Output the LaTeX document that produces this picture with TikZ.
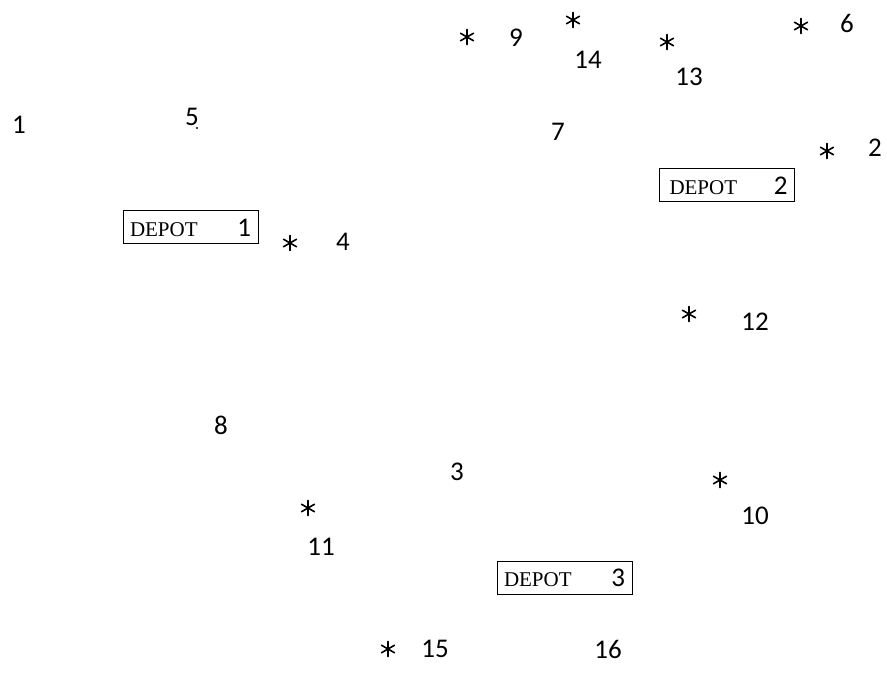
\documentclass[tikz,border=0pt]{standalone}
\usepackage{fontspec}
\setmainfont{Carlito}
\newfontfamily\depotfont{Liberation Serif}
\usepackage{tikz}

\begin{document}
\begin{tikzpicture}[x=1pt, y=-1pt, every node/.style={font=\fontsize{27}{30}\selectfont, inner sep=0pt}]
            \tikzstyle{cust}=[circle, minimum size=19pt, path picture={
                \draw[line width=1.6pt, line cap=round] (path picture bounding box.center) +(90:7.5pt) -- +(270:7.5pt)
                    (path picture bounding box.center) +(30:7.5pt) -- +(210:7.5pt)
                    (path picture bounding box.center) +(150:7.5pt) -- +(330:7.5pt);}]
            \tikzstyle{depot}=[rectangle, draw, line width=1pt, text width=121pt, inner xsep=7pt, minimum height=33pt, align=left]

            \useasboundingbox (0,0) rectangle (887,687);

            % depots
            \node[depot] (d1) at (190.5,227.5) {{\fontsize{21}{22}\depotfont DEPOT}\hfill 1};
            \node[depot] (d2) at (727,185.5) {\hspace*{3pt}{\fontsize{21}{22}\depotfont DEPOT}\hfill 2\hspace*{4pt}};
            \node[depot] (d3) at (564.5,578) {{\fontsize{21}{22}\depotfont DEPOT}\hfill 3\hspace*{2pt}};

            % customers
            \node[cust] (s9) at (467,37) {};
            \node (n9) at (516,38) {9};
            \node[cust] (s14) at (573,20) {};
            \node (n14) at (588,60) {14};
            \node[cust] (s13) at (667,42) {};
            \node (n13) at (689,77) {13};
            \node[cust] (s6) at (801,26) {};
            \node (n6) at (847,23) {6};
            \node (n7) at (558,132) {7};
            \node[cust] (s2) at (827,151) {};
            \node (n2) at (875,148) {2};
            \node (n1) at (19,125) {1};
            \node (n5) at (192,117) {5};
            \fill (197,128) circle (1.2pt);
            \node[cust] (s4) at (290,243) {};
            \node (n4) at (343,242) {4};
            \node[cust] (s12) at (689,314) {};
            \node (n12) at (755,322) {12};
            \node (n8) at (221,425) {8};
            \node (n3) at (457,472) {3};
            \node[cust] (s11) at (308,508) {};
            \node (n11) at (321,547) {11};
            \node[cust] (s10) at (720,480) {};
            \node (n10) at (755,516) {10};
            \node[cust] (s15) at (388,649) {};
            \node (n15) at (435,649) {15};
            \node (n16) at (608,649) {16};
        \end{tikzpicture}
\end{document}
